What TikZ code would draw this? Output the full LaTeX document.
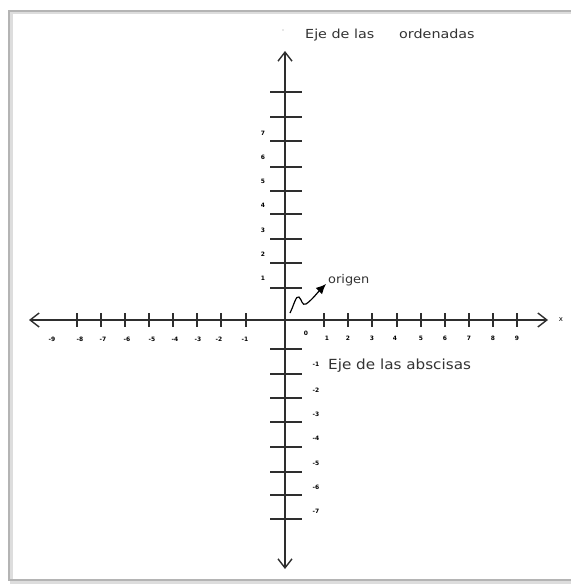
\documentclass[tikz,border=0pt]{standalone}
\usepackage{fontspec}
\setmainfont{DejaVu Sans}
\usetikzlibrary{arrows.meta}
\definecolor{axisc}{HTML}{2E2E2E}
\definecolor{framec}{HTML}{B4B4B4}
\definecolor{textc}{HTML}{333333}
\begin{document}
\begin{tikzpicture}[x=1bp,y=-1bp,
  axisline/.style={draw=axisc,line width=1.4bp},
  tickline/.style={draw=axisc,line width=1.3bp},
  barb/.style={-{Straight Barb[length=9bp,width=14bp,line width=1.4bp]}},
  numlab/.style={inner sep=0pt,text=black,font=\fontsize{6}{6}\selectfont\bfseries},
  bigtext/.style={inner sep=0pt,anchor=base west,text=textc},
]
\useasboundingbox (0,0) rectangle (571,585);
\fill[white] (0,0) rectangle (571,585);
% frame with soft shadow
\draw[framec!45,line width=3bp] (580,13) -- (11,13) -- (11,582) -- (580,582);
\draw[framec,line width=1.2bp] (580,11) -- (9,11) -- (9,580) -- (580,580);

% axes
\coordinate (xl) at (29,320);
\coordinate (xr) at (548,320);
\coordinate (yt) at (285,51);
\coordinate (yb) at (285,569);
\coordinate (oo) at (285,320);
\draw[axisline,barb] (oo) -- (xl);
\draw[axisline,barb] (oo) -- (xr);
\draw[axisline,barb] (oo) -- (yt);
\draw[axisline,barb] (oo) -- (yb);

% x ticks
\foreach \x in {77,101,125,149,173,197,221,246,324,348,372,397,421,445,469,493,517}
  \draw[tickline] (\x,313) -- (\x,327);
% y ticks
\foreach \y in {92,117,141,167,191,214,239,263,288,349,374,398,422,447,472,495,519}
  \draw[tickline] (270,\y) -- (302,\y);

% x labels
\foreach \x/\t in {52/-9,80/-8,103/-7,127/-6,152/-5,175/-4,198/-3,219/-2,245/-1}
  \node[numlab] (xn\t) at (\x,339) {\t};
\foreach \x/\t in {327/1,348/2,372/3,395/4,421/5,445/6,469/7,493/8,517/9}
  \node[numlab] (xp\t) at (\x,338) {\t};
\node[numlab] (zero) at (306,333) {0};
\node[numlab,font=\fontsize{7}{7}\selectfont] (xlab) at (561,320) {x};

% y labels
\foreach \y/\t in {133/7,157/6,181/5,205/4,230/3,254/2,278/1}
  \node[numlab] (yp\t) at (263,\y) {\t};
\foreach \y/\t in {364/-1,390/-2,414/-3,438/-4,463/-5,487/-6,511/-7}
  \node[numlab] (yn\t) at (316,\y) {\t};

% texts
\fill[black!40] (283,30) circle (0.7bp);
\node[bigtext,font=\fontsize{12.5}{13}\selectfont] (ord1) at (305,39) {\scalebox{1.15}[1]{Eje de las}};
\node[bigtext,font=\fontsize{12.5}{13}\selectfont] (ord2) at (399,39) {\scalebox{1.15}[1]{ordenadas}};
\node[bigtext,font=\fontsize{14}{15}\selectfont] (absc) at (328,369) {\scalebox{1.09}[1]{Eje de las abscisas}};
\node[bigtext,font=\fontsize{12}{13}\selectfont] (orig) at (328,283) {\scalebox{1.08}[1]{origen}};

% origin squiggle arrow
\coordinate (s0) at (290,313);
\coordinate (s1) at (326,284);
\draw[draw=black,line width=1.2bp,-{Latex[length=10bp,width=9bp]}]
  (s0) .. controls (294,305) and (296,295) .. (299,297)
       .. controls (302,300) and (302,306) .. (306,304)
       .. controls (312,300) and (318,292) .. (s1);
\end{tikzpicture}
\end{document}
